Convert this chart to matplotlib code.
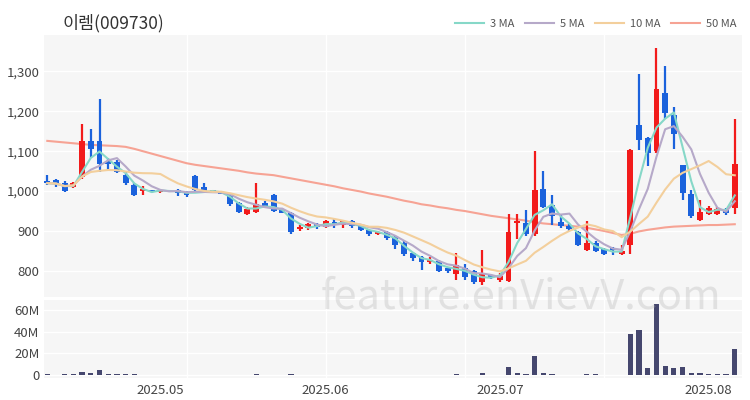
import numpy as np, pandas as pd, matplotlib
matplotlib.use("Agg")
import matplotlib.pyplot as plt
from matplotlib.ticker import FuncFormatter

plt.rcParams.update({"font.family": ["Noto Sans CJK KR", "DejaVu Sans"], "axes.unicode_minus": False})

TITLE = "이렘(009730)"
# 일봉 OHLC (원), 80 거래일
OPEN = [1025, 1028, 1020, 1010, 1035, 1125, 1125, 1075, 1073, 1040,
        1015, 1000, 1003, 997, 1000, 1004, 998, 1038, 1010, 1002,
        998, 992, 970, 942, 948, 970, 990, 955, 945, 905,
        907, 917, 910, 922, 914, 925, 916, 902, 892, 898,
        886, 870, 845, 836, 822, 826, 806, 793, 808, 800,
        772, 790, 776, 775, 920, 920, 893, 1006, 964, 922,
        913, 898, 853, 870, 855, 858, 843, 865, 1165, 1133,
        1100, 1245, 1190, 1065, 993, 928, 942, 942, 952, 958]
HIGH = [1040, 1030, 1025, 1022, 1168, 1157, 1230, 1082, 1077, 1048,
        1020, 1012, 1004, 1004, 1003, 1006, 1000, 1040, 1020, 1003,
        999, 995, 972, 960, 1020, 975, 992, 957, 948, 915,
        920, 919, 928, 930, 927, 927, 918, 904, 900, 900,
        888, 875, 848, 838, 836, 828, 810, 846, 818, 802,
        853, 792, 795, 942, 942, 952, 1100, 1050, 990, 940,
        918, 900, 926, 875, 858, 860, 864, 1105, 1293, 1135,
        1358, 1313, 1212, 1066, 1003, 977, 963, 960, 958, 1180]
LOW = [1015, 1010, 998, 1008, 1030, 1082, 1048, 1055, 1045, 1016,
       988, 990, 996, 996, 998, 988, 985, 998, 998, 997,
       992, 962, 944, 940, 945, 958, 948, 944, 893, 900,
       902, 906, 907, 908, 907, 908, 900, 888, 889, 878,
       855, 838, 826, 802, 818, 796, 795, 776, 776, 768,
       765, 780, 772, 773, 880, 888, 887, 957, 915, 907,
       900, 862, 850, 848, 840, 840, 840, 842, 1103, 1062,
       1095, 1182, 1106, 977, 933, 926, 940, 940, 940, 942]
CLOSE = [1020, 1018, 1000, 1020, 1125, 1105, 1068, 1068, 1048, 1020,
         990, 1006, 997, 1002, 1002, 995, 990, 1003, 1000, 998,
         993, 967, 947, 955, 967, 963, 950, 946, 898, 910,
         917, 910, 925, 916, 924, 912, 903, 892, 898, 882,
         864, 842, 832, 822, 828, 800, 800, 815, 785, 772,
         795, 782, 788, 897, 925, 893, 1003, 960, 938, 912,
         905, 865, 870, 850, 843, 852, 850, 1103, 1128, 1095,
         1255, 1195, 1142, 995, 937, 947, 958, 955, 945, 1068]
# 거래량 (백만 주)
VOLUME = [0.5, 0.4, 0.6, 0.5, 3.0, 1.5, 4.5, 0.8, 0.6, 0.5,
          0.5, 0.3, 0.3, 0.3, 0.3, 0.3, 0.3, 0.4, 0.3, 0.3,
          0.3, 0.3, 0.3, 0.3, 0.6, 0.3, 0.3, 0.3, 0.6, 0.3,
          0.3, 0.3, 0.3, 0.3, 0.3, 0.3, 0.3, 0.3, 0.3, 0.3,
          0.3, 0.3, 0.3, 0.3, 0.3, 0.3, 0.3, 0.8, 0.3, 0.3,
          2.0, 0.4, 0.3, 7.5, 2.0, 0.6, 17.5, 2.0, 1.2, 0.4,
          0.3, 0.4, 1.0, 0.5, 0.3, 0.3, 0.3, 38.0, 41.5, 6.0,
          65.0, 8.5, 6.0, 7.3, 2.0, 1.5, 1.0, 1.0, 0.7, 23.5]
# 50일 이동평균 (차트에서 읽은 값, 이전 구간 데이터 포함)
MA50 = [1126, 1124, 1122, 1120, 1118, 1116, 1115, 1114, 1113, 1111,
        1106, 1100, 1094, 1088, 1082, 1076, 1070, 1066, 1063, 1060,
        1057, 1054, 1051, 1047, 1044, 1042, 1040, 1036, 1032, 1028,
        1024, 1020, 1016, 1012, 1007, 1003, 999, 994, 990, 986,
        981, 976, 972, 967, 964, 960, 957, 953, 950, 946,
        942, 938, 935, 932, 929, 926, 922, 919, 917, 915,
        913, 911, 908, 904, 900, 895, 890, 893, 899, 903,
        906, 909, 911, 912, 913, 914, 915, 915, 916, 917]
MONTH_POS = [13, 32, 52, 76]
MONTH_LABELS = ["2025.05", "2025.06", "2025.07", "2025.08"]

UP, DOWN, VOLC = "#f21b1b", "#1b62dc", "#45476e"
MA_COLORS = {"3 MA": "#86d8c8", "5 MA": "#b6a9c9", "10 MA": "#f3cf9c", "50 MA": "#f6a394"}
BG = "#f6f6f6"

df = pd.DataFrame({"open": OPEN, "high": HIGH, "low": LOW, "close": CLOSE, "vol": VOLUME})
x = np.arange(len(df))
ma = {f"{n} MA": df["close"].rolling(n, min_periods=1).mean() for n in (3, 5, 10)}
ma["50 MA"] = pd.Series(MA50)

fig = plt.figure(figsize=(7.5, 4), dpi=100, facecolor="white")
ax = fig.add_axes([0.059, 0.257, 0.930, 0.655])
axv = fig.add_axes([0.059, 0.055, 0.930, 0.195], sharex=ax)

for a in (ax, axv):
    a.set_facecolor(BG)
    for s in a.spines.values(): s.set_visible(False)
    a.tick_params(length=0, labelsize=9.5, colors="#444444")
    for v in (16, 32, 48, 64): a.axvline(v, color="white", lw=1, zorder=0)

# 캔들
up = df["close"] >= df["open"]
col = np.where(up, UP, DOWN)
ax.vlines(x, df["low"], df["high"], colors=col, lw=1.6, zorder=3)
body_lo = np.minimum(df["open"], df["close"])
body_h = np.maximum((df["close"] - df["open"]).abs(), 4)
ax.bar(x, body_h, bottom=body_lo, width=0.68, color=col, zorder=4)

handles = []
for name, s in ma.items():
    ln, = ax.plot(x, s, color=MA_COLORS[name], lw=1.5, label=name, zorder=2 if name == "50 MA" else 5)
    handles.append(ln)

ax.set_ylim(734, 1391)
ax.set_yticks(range(800, 1301, 100))
ax.yaxis.set_major_formatter(FuncFormatter(lambda v, _: f"{int(v):,}"))
ax.grid(True, axis="y", color="white", lw=1)
ax.set_axisbelow(True)
ax.tick_params(axis="x", labelbottom=False)
ax.set_xlim(-0.35, len(df) - 0.2)

axv.bar(x, df["vol"] * 1e6, width=0.6, color=VOLC, zorder=3)
axv.set_ylim(-2.8e6, 69e6)
axv.set_yticks([0, 20e6, 40e6, 60e6])
axv.yaxis.set_major_formatter(FuncFormatter(lambda v, _: "0" if v == 0 else f"{int(v / 1e6)}M"))
axv.grid(True, axis="y", color="white", lw=1)
axv.set_axisbelow(True)
axv.set_xticks(MONTH_POS)
axv.set_xticklabels(MONTH_LABELS, fontsize=9.5)
axv.tick_params(axis="x", pad=4)

fig.text(0.083, 0.943, TITLE, fontsize=12.5, color="#333333", va="center")
fig.legend(handles=handles, loc="center right", bbox_to_anchor=(0.995, 0.94), ncol=4,
           frameon=False, fontsize=8, handlelength=2.6, columnspacing=1.0, handletextpad=0.5,
           labelcolor="#555555")
fig.text(0.695, 0.258, "feature.enVievV.com", fontsize=30, color="#b0b0b0", alpha=0.3,
         ha="center", va="center", zorder=10)

fig.savefig("out.png", dpi=100, facecolor="white")
